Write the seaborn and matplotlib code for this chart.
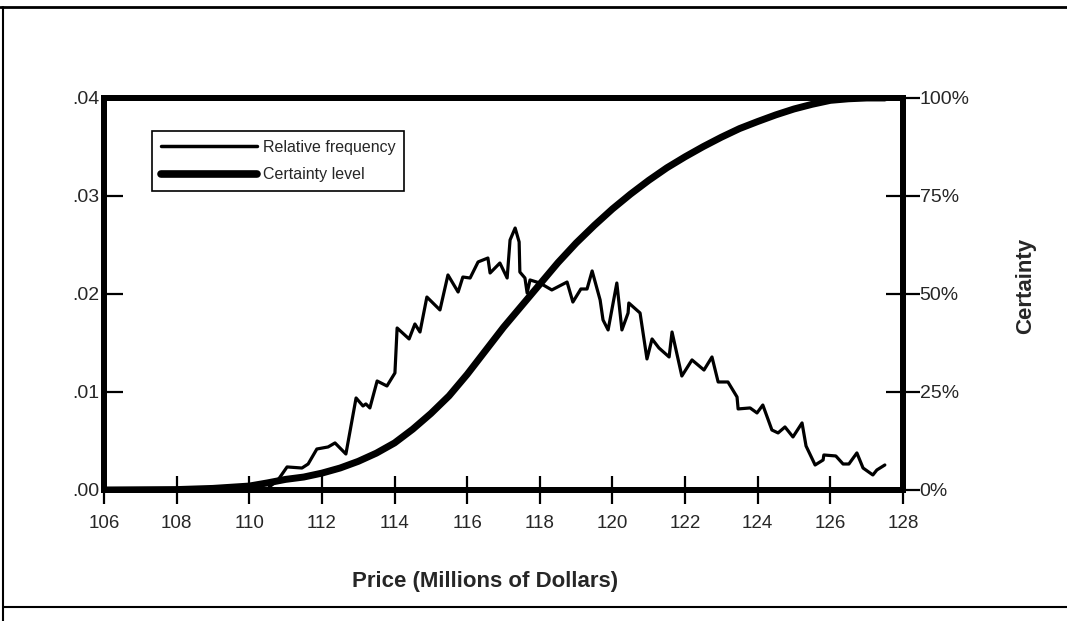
import matplotlib
matplotlib.use('Agg')
import matplotlib.pyplot as plt
import seaborn as sns
from matplotlib.lines import Line2D
from matplotlib.ticker import FixedLocator, FixedFormatter

# ---------------- data ----------------
price_freq = [110.55, 110.79, 111.04, 111.45, 111.62, 111.86, 112.17, 112.36, 112.66, 112.94,
              113.13, 113.21, 113.32, 113.52, 113.79, 114.01, 114.07, 114.40, 114.56, 114.70,
              114.89, 115.25, 115.47, 115.75, 115.88, 116.08, 116.30, 116.57, 116.63, 116.90,
              117.10, 117.18, 117.32, 117.43, 117.45, 117.59, 117.65, 117.73, 118.00, 118.33,
              118.75, 118.91, 119.13, 119.30, 119.44, 119.66, 119.74, 119.88, 120.12, 120.26,
              120.43, 120.45, 120.76, 120.95, 121.09, 121.28, 121.56, 121.64, 121.91, 122.19,
              122.52, 122.74, 122.91, 123.18, 123.43, 123.46, 123.79, 123.98, 124.14, 124.39,
              124.56, 124.75, 124.97, 125.22, 125.33, 125.58, 125.80, 125.82, 126.15, 126.35,
              126.51, 126.73, 126.90, 127.17, 127.28, 127.50]
rel_freq = [0.0003, 0.00102, 0.00235, 0.00224, 0.00265, 0.00418, 0.00439, 0.00480, 0.00367, 0.00939,
            0.00857, 0.00878, 0.00837, 0.01112, 0.01061, 0.01194, 0.01653, 0.01541, 0.01694, 0.01612,
            0.01969, 0.01837, 0.02194, 0.02020, 0.02173, 0.02163, 0.02327, 0.02367, 0.02214, 0.02316,
            0.02163, 0.02551, 0.02673, 0.02531, 0.02224, 0.02163, 0.02010, 0.02143, 0.02112, 0.02041,
            0.02122, 0.01918, 0.02051, 0.02051, 0.02235, 0.01939, 0.01735, 0.01633, 0.02112, 0.01633,
            0.01806, 0.01908, 0.01806, 0.01337, 0.01541, 0.01449, 0.01357, 0.01612, 0.01163, 0.01327,
            0.01224, 0.01357, 0.01102, 0.01102, 0.00949, 0.00827, 0.00837, 0.00786, 0.00867, 0.00612,
            0.00582, 0.00643, 0.00541, 0.00684, 0.00449, 0.00255, 0.00306, 0.00357, 0.00347, 0.00265,
            0.00265, 0.00378, 0.00224, 0.00153, 0.00204, 0.00255]

price_cert = [106, 108, 109, 110, 110.5, 111, 111.5, 112, 112.5, 113, 113.5, 114, 114.5, 115,
              115.5, 116, 116.5, 117, 117.5, 118, 118.5, 119, 119.5, 120, 120.5, 121, 121.5,
              122, 122.5, 123, 123.5, 124, 124.5, 125, 125.5, 126, 126.5, 127, 127.5]
certainty = [0, 0.1, 0.4, 1.0, 1.8, 2.7, 3.3, 4.3, 5.6, 7.3, 9.4, 12.0, 15.5, 19.5,
             24.0, 29.5, 35.5, 41.5, 47.0, 52.5, 58.0, 63.0, 67.5, 71.7, 75.5, 79.0, 82.2,
             85.0, 87.6, 90.0, 92.2, 94.0, 95.7, 97.2, 98.4, 99.4, 99.8, 100, 100]

x_ticks = [106, 108, 110, 112, 114, 116, 118, 120, 122, 124, 126, 128]
x_tick_labels = ['106', '108', '110', '112', '114', '116', '118', '120', '122', '124', '126', '128']
y_ticks = [0.00, 0.01, 0.02, 0.03, 0.04]
y_tick_labels = ['.00', '.01', '.02', '.03', '.04']
cert_ticks = [0, 25, 50, 75, 100]
cert_tick_labels = ['0%', '25%', '50%', '75%', '100%']
legend_labels = ['Relative frequency', 'Certainty level']
x_label = 'Price (Millions of Dollars)'
y2_label = 'Certainty'

# ---------------- style ----------------
sns.set_style('white')
plt.rcParams['font.family'] = ['Liberation Sans', 'DejaVu Sans']

fig = plt.figure(figsize=(10.67, 6.21), dpi=100)
ax = fig.add_axes([0.0975, 0.2110, 0.7488, 0.6312])

sns.lineplot(x=price_freq, y=rel_freq, ax=ax, color='black', lw=2.3,
             sort=False, estimator=None)
ax.set_xlim(106, 128)
ax.set_ylim(0, 0.04)

ax2 = ax.twinx()
sns.lineplot(x=price_cert, y=certainty, ax=ax2, color='black', lw=5.0,
             sort=False, estimator=None)
ax2.set_ylim(0, 100)

for a in (ax, ax2):
    for s in a.spines.values():
        s.set_visible(True)
        s.set_linewidth(4.3)
        s.set_color('black')

ax.xaxis.set_major_locator(FixedLocator(x_ticks))
ax.xaxis.set_major_formatter(FixedFormatter(x_tick_labels))
ax.yaxis.set_major_locator(FixedLocator(y_ticks))
ax.yaxis.set_major_formatter(FixedFormatter(y_tick_labels))
ax2.yaxis.set_major_locator(FixedLocator(cert_ticks))
ax2.yaxis.set_major_formatter(FixedFormatter(cert_tick_labels))

ax.tick_params(axis='x', which='major', bottom=True, top=False, direction='inout',
               length=20, width=1.6, labelsize=13.5, pad=8, color='black')
ax.tick_params(axis='y', which='major', left=True, right=False, direction='in',
               length=14, width=1.6, labelsize=14, pad=3, color='black')
ax2.tick_params(axis='y', which='major', right=True, left=False, direction='inout',
                length=24, width=1.6, labelsize=14, pad=0, color='black')

ax.set_xlabel(x_label, fontweight='bold', fontsize=16)
ax.xaxis.set_label_coords(0.477, -0.207)
ax.set_ylabel('')
ax2.set_ylabel(y2_label, fontweight='bold', fontsize=16)
ax2.yaxis.set_label_coords(1.140, 0.52)

handles = [Line2D([], [], color='black', lw=2.5), Line2D([], [], color='black', lw=5.5)]
leg = ax2.legend(handles, legend_labels, loc='upper left', bbox_to_anchor=(0.060, 0.916),
                 borderaxespad=0, frameon=True, fancybox=False, edgecolor='black',
                 fontsize=11.5, handlelength=6, handletextpad=0.4, labelspacing=0.8,
                 borderpad=0.55, framealpha=1)
leg.get_frame().set_linewidth(1.2)

# outer frame of the page
fig.add_artist(Line2D([0, 1], [0.989, 0.989], transform=fig.transFigure, color='black', lw=2.0))
fig.add_artist(Line2D([0.003, 0.003], [0, 0.989], transform=fig.transFigure, color='black', lw=1.5))
fig.add_artist(Line2D([0.003, 1], [0.0225, 0.0225], transform=fig.transFigure, color='black', lw=1.5))

fig.savefig('out.png', dpi=100, facecolor='white')
